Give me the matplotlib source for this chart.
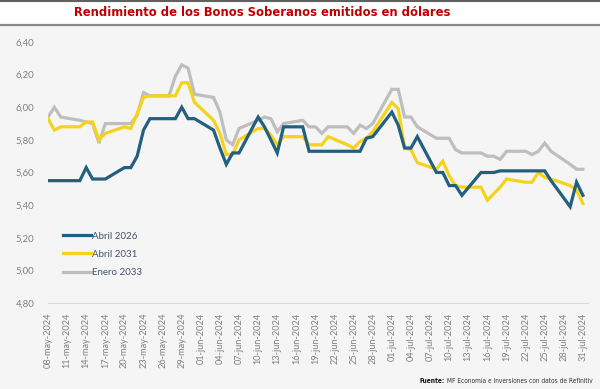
import matplotlib
matplotlib.use("Agg")
import matplotlib.pyplot as plt
import pandas as pd
from matplotlib.lines import Line2D
from matplotlib.font_manager import fontManager, FontProperties

dates = pd.bdate_range("2024-05-08", "2024-07-31")

abril_2026 = [5.55, 5.55, 5.55, 5.55, 5.63, 5.56, 5.56, 5.56, 5.63, 5.63, 5.70, 5.86, 5.93, 5.93, 5.93, 6.00, 5.93, 5.93,
              5.86, 5.75, 5.65, 5.72, 5.72, 5.94, 5.88, 5.80, 5.72, 5.88, 5.88, 5.73, 5.73, 5.73, 5.73, 5.73, 5.73, 5.73, 5.81, 5.82,
              5.97, 5.89, 5.75, 5.75, 5.82, 5.60, 5.60, 5.52, 5.52, 5.46, 5.60, 5.60, 5.60, 5.61, 5.61, 5.61, 5.61, 5.61, 5.61, 5.55, 5.39, 5.54, 5.46]
abril_2031 = [5.93, 5.86, 5.88, 5.88, 5.91, 5.91, 5.80, 5.84, 5.88, 5.87, 5.96, 6.06, 6.07, 6.07, 6.07, 6.15, 6.15, 6.03,
              5.92, 5.84, 5.71, 5.71, 5.80, 5.87, 5.87, 5.83, 5.77, 5.82, 5.82, 5.77, 5.77, 5.77, 5.82, 5.77, 5.75, 5.79, 5.81, 5.85,
              6.03, 5.99, 5.75, 5.74, 5.66, 5.62, 5.67, 5.58, 5.52, 5.51, 5.51, 5.43, 5.47, 5.51, 5.56, 5.54, 5.54, 5.60, 5.57, 5.56, 5.52, 5.49, 5.41]
enero_2033 = [5.94, 6.00, 5.94, 5.92, 5.91, 5.90, 5.78, 5.90, 5.90, 5.90, 5.95, 6.09, 6.07, 6.07, 6.19, 6.26, 6.24, 6.08,
              6.06, 5.97, 5.80, 5.77, 5.87, 5.92, 5.94, 5.93, 5.85, 5.90, 5.92, 5.88, 5.88, 5.84, 5.88, 5.88, 5.84, 5.89, 5.87, 5.90,
              6.11, 6.11, 5.94, 5.94, 5.88, 5.81, 5.81, 5.81, 5.74, 5.72, 5.72, 5.70, 5.70, 5.68, 5.73, 5.73, 5.71, 5.73, 5.78, 5.73, 5.65, 5.62, 5.62]

series_names = ["Abril 2026", "Abril 2031", "Enero 2033"]
series_colors = ["#23607f", "#f5d31c", "#bebebe"]

y_ticks = [4.80, 5.00, 5.20, 5.40, 5.60, 5.80, 6.00, 6.20, 6.40]

title = "Rendimiento de los Bonos Soberanos emitidos en dólares"
source_bold = "Fuente:"
source_rest = " MF Economía e Inversiones con datos de Refinitiv"

names = {f.name for f in fontManager.ttflist}
tick_font = "Lato" if "Lato" in names else "DejaVu Sans"


def find_narrow(bold):
    cands = []
    for f in fontManager.ttflist:
        nm = f.name + " " + str(f.fname)
        narrow = ("Narrow" in nm or "Condensed" in nm or "Cond" in nm
                  or f.stretch in ("condensed", "semi-condensed", "extra-condensed", 550, 575, 600, 62, 75, 87))
        if not narrow:
            continue
        w = f.weight if isinstance(f.weight, int) else {"bold": 700, "normal": 400, "regular": 400}.get(str(f.weight), 400)
        if bold and w < 600:
            continue
        if (not bold) and w >= 600:
            continue
        if "Italic" in str(f.fname) or f.style != "normal":
            continue
        cands.append(f)
    if not cands:
        return None
    return FontProperties(fname=cands[0].fname)


W, H, DPI = 600, 389, 100
fig = plt.figure(figsize=(W / DPI, H / DPI), dpi=DPI)
fig.patch.set_facecolor("white")

fig.patches.append(plt.Rectangle((0, 0), 1, 1 - 26 / H, transform=fig.transFigure,
                                 facecolor="#f5f5f5", edgecolor="none", zorder=-10))
fig.add_artist(Line2D([0, 1], [1 - 0.8 / H, 1 - 0.8 / H], transform=fig.transFigure, color="#606060", lw=1.5))
fig.add_artist(Line2D([0, 1], [1 - 25 / H, 1 - 25 / H], transform=fig.transFigure, color="#8a8a8a", lw=1.6))

ax = fig.add_axes([48 / W, (H - 303) / H, (588 - 48) / W, (303 - 42) / H])
ax.set_facecolor("none")

data = [abril_2026, abril_2031, enero_2033]
zs = [5, 4, 3]
for vals, col, z in zip(data, series_colors, zs):
    ax.plot(dates, vals, color=col, lw=2.3, solid_joinstyle="miter", zorder=z)

ax.set_ylim(4.80, 6.40)
ax.set_xlim(pd.Timestamp("2024-05-08"), pd.Timestamp("2024-07-31") + pd.Timedelta(days=0.8))
ax.set_yticks(y_ticks)
ax.set_yticklabels([f"{v:.2f}".replace(".", ",") for v in y_ticks], fontfamily=tick_font, fontsize=6.8, color="#7f7f7f")

xt = pd.date_range("2024-05-08", "2024-07-31", freq="3D")
ax.set_xticks(xt)
mes = {5: "may", 6: "jun", 7: "jul"}
ax.set_xticklabels([f"{d.day:02d}-{mes[d.month]}-{d.year}" for d in xt], rotation=90,
                   fontfamily=tick_font, fontsize=6.6, color="#7f7f7f")
ax.tick_params(axis="both", length=0)
ax.tick_params(axis="y", pad=10)
ax.tick_params(axis="x", pad=7)
for s in ["top", "right", "left"]:
    ax.spines[s].set_visible(False)
ax.spines["bottom"].set_color("#d9d9d9")
ax.spines["bottom"].set_linewidth(0.8)

handles = [Line2D([0], [0], color=c, lw=2.3) for c in series_colors]
leg = ax.legend(handles, series_names, loc="upper left", bbox_to_anchor=(0.012, 0.307), frameon=False,
                handlelength=2.9, handletextpad=0.1, labelspacing=0.95,
                prop={"family": tick_font, "size": 7})
for t in leg.get_texts():
    t.set_color("#44546a")

# Title: narrow bold font if available, sized to the reference width
tprop = find_narrow(True)
if tprop is None:
    tprop = FontProperties(family="Liberation Serif", weight="bold")
tprop.set_size(14)
ttl = fig.text(262.5 / W, 1 - 13 / H, title, ha="center", va="center", color="#c00000", fontproperties=tprop)
fig.canvas.draw()
tw = ttl.get_window_extent().width
tprop.set_size(14 * 381 / tw)
ttl.set_fontproperties(tprop)

sprop = find_narrow(False)
sbprop = find_narrow(True)
if sprop is None:
    sprop = FontProperties(family="Liberation Sans")
if sbprop is None:
    sbprop = FontProperties(family="Liberation Sans", weight="bold")
fs = 5.4
sprop.set_size(fs)
sbprop.set_size(fs)
t2 = fig.text(593 / W, 1 - 381 / H, source_rest, ha="right", va="center", fontproperties=sprop, color="#333333")
t1 = fig.text(0, 1 - 381 / H, source_bold, ha="right", va="center", fontproperties=sbprop, color="#111111")
fig.canvas.draw()
total = t2.get_window_extent().width + t1.get_window_extent().width
fs = fs * 173 / total
sprop.set_size(fs)
sbprop.set_size(fs)
t2.set_fontproperties(sprop)
t1.set_fontproperties(sbprop)
fig.canvas.draw()
bb = t2.get_window_extent()
t1.set_x(bb.x0 / W)

fig.savefig("out.png", dpi=DPI)
